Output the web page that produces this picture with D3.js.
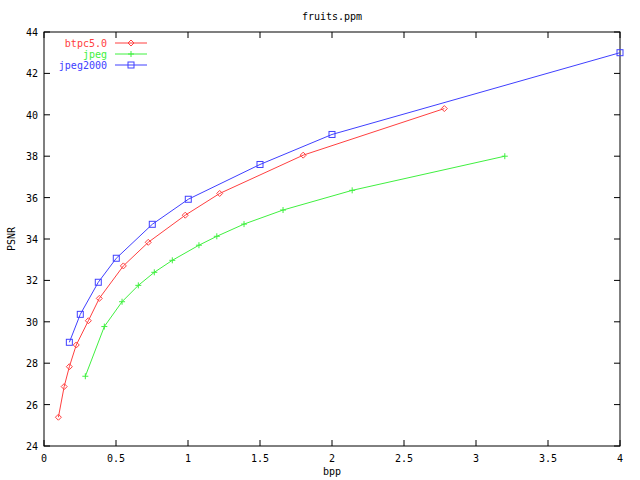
<!DOCTYPE html><html><head><script src="https://cdn.jsdelivr.net/npm/d3@7"></script>
<style>body{margin:0;background:#fff}text{font-family:"DejaVu Sans Mono",monospace;font-size:10px}</style></head><body><svg width="640" height="480"></svg><script>
const btpcX=[0.10,0.14,0.176,0.224,0.308,0.384,0.551,0.724,0.981,1.22,1.8,2.78];
const btpcY=[25.39,26.87,27.83,28.88,30.05,31.13,32.7,33.84,35.15,36.2,38.05,40.3];
const jpegX=[0.287,0.419,0.542,0.655,0.766,0.891,1.076,1.2,1.389,1.66,2.14,3.2];
const jpegY=[27.37,29.77,30.97,31.76,32.39,32.97,33.7,34.13,34.72,35.4,36.35,38.0];
const j2kX=[0.176,0.252,0.377,0.502,0.752,1.002,1.5,2.0,4.0];
const j2kY=[29.01,30.36,31.91,33.07,34.71,35.92,37.6,39.05,43.0];
const xTicks=[0,0.5,1,1.5,2,2.5,3,3.5,4];
const yTicks=[24,26,28,30,32,34,36,38,40,42,44];
const series=[{name:"btpc5.0",x:btpcX,y:btpcY,c:"#ff4040",m:"diamond"},{name:"jpeg",x:jpegX,y:jpegY,c:"#40f040",m:"plus"},{name:"jpeg2000",x:j2kX,y:j2kY,c:"#4040ff",m:"square"}];
const svg=d3.select("svg");
const L=44,R=620,T=32,B=446;
const x=d3.scaleLinear().domain([0,4]).range([L,R]);
const y=d3.scaleLinear().domain([24,44]).range([B,T]);
svg.append("rect").attr("x",L).attr("y",T).attr("width",R-L).attr("height",B-T).attr("fill","none").attr("stroke","#000");
const g=svg.append("g");
xTicks.forEach(t=>{g.append("line").attr("x1",x(t)).attr("x2",x(t)).attr("y1",B).attr("y2",B-6).attr("stroke","#000");g.append("line").attr("x1",x(t)).attr("x2",x(t)).attr("y1",T).attr("y2",T+6).attr("stroke","#000");g.append("text").attr("x",x(t)).attr("y",B+16).attr("text-anchor","middle").text(String(t));});
yTicks.forEach(t=>{g.append("line").attr("x1",L).attr("x2",L+6).attr("y1",y(t)).attr("y2",y(t)).attr("stroke","#000");g.append("line").attr("x1",R).attr("x2",R-6).attr("y1",y(t)).attr("y2",y(t)).attr("stroke","#000");g.append("text").attr("x",L-6).attr("y",y(t)+4).attr("text-anchor","end").text(String(t));});
svg.append("text").attr("x",332).attr("y",20).attr("text-anchor","middle").text("fruits.ppm");
svg.append("text").attr("x",332).attr("y",475).attr("text-anchor","middle").text("bpp");
svg.append("text").attr("transform","translate(15,239) rotate(-90)").attr("text-anchor","middle").text("PSNR");
function marker(sel,m,px,py,c){
 if(m==="diamond")sel.append("path").attr("d",`M${px},${py-3}L${px+3},${py}L${px},${py+3}L${px-3},${py}Z`).attr("fill","none").attr("stroke",c);
 else if(m==="plus")sel.append("path").attr("d",`M${px-3},${py}H${px+3}M${px},${py-3}V${py+3}`).attr("stroke",c);
 else sel.append("rect").attr("x",px-3).attr("y",py-3).attr("width",6).attr("height",6).attr("fill","none").attr("stroke",c);
}
series.forEach((s,i)=>{
 const pts=s.x.map((v,k)=>[x(v),y(s.y[k])]);
 svg.append("path").attr("d",d3.line()(pts)).attr("fill","none").attr("stroke",s.c);
 pts.forEach(p=>marker(svg,s.m,p[0],p[1],s.c));
 const ly=43+i*11;
 svg.append("text").attr("x",107).attr("y",ly+4).attr("text-anchor","end").attr("fill",s.c).text(s.name);
 svg.append("line").attr("x1",115).attr("x2",147).attr("y1",ly).attr("y2",ly).attr("stroke",s.c);
 marker(svg,s.m,131,ly,s.c);
});
</script></body></html>
